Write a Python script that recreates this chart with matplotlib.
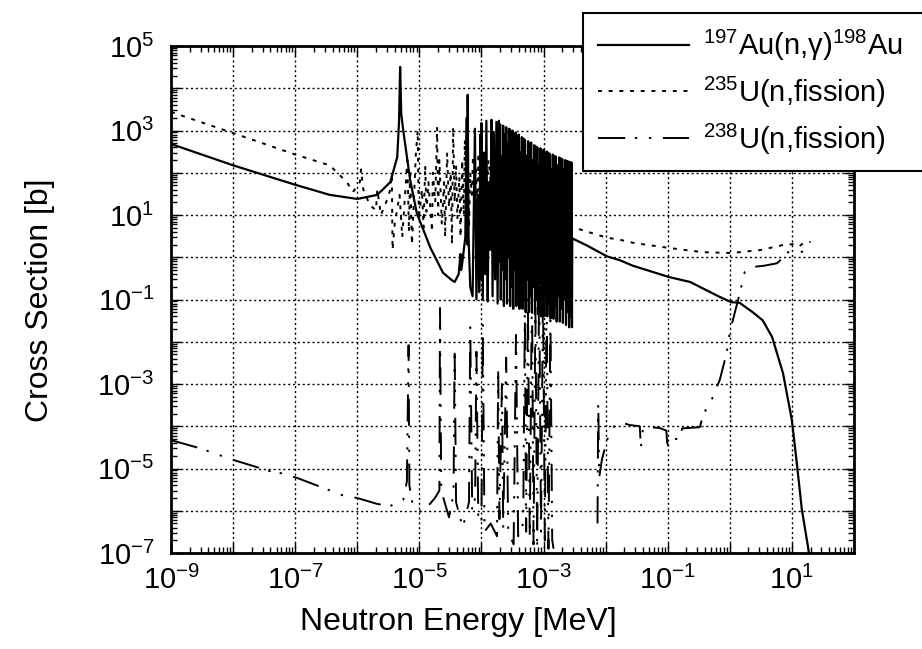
"""Neutron cross sections: Au capture, U-235 and U-238 fission."""

import numpy as np
import matplotlib
matplotlib.use("Agg")
import matplotlib.pyplot as plt
from matplotlib.ticker import LogLocator, FuncFormatter, NullFormatter

nan = float("nan")

# 197Au(n,gamma) -- energy [MeV], cross section [b]
AU_E = [
    1e-9, 1e-8, 1e-7, 3.6e-7, 1.0e-6, 2.1e-6, 3.4e-6, 4.4e-6, 4.7e-6, 4.9e-6,
    5.1e-6, 5.5e-6, 7.1e-6, 9.1e-6, 1.5e-5, 2.4e-5, 3.3e-5, 3.7e-5, 4.3e-5, 4.6e-5,
    4.7e-5, 4.9e-5, 5.5e-5, 5.8e-5, 5.95e-5, 6.0e-5, 6.2e-5, 6.6e-5, 7.2e-5, 7.85e-5,
    8.3e-5, 8.8e-5, 9.2e-5, 9.6e-5, 9.8e-5,
    # resolved resonance band
    1.00e-4, 1.05e-4, 1.10e-4, 1.15e-4, 1.20e-4, 1.26e-4, 1.32e-4, 1.38e-4, 1.45e-4, 1.51e-4,
    1.58e-4, 1.66e-4, 1.74e-4, 1.82e-4, 1.91e-4, 1.95e-4,
    2.00e-4, 2.05e-4, 2.11e-4, 2.18e-4, 2.24e-4, 2.30e-4, 2.37e-4, 2.44e-4, 2.51e-4, 2.58e-4,
    2.66e-4, 2.74e-4, 2.82e-4, 2.90e-4, 2.99e-4, 3.07e-4, 3.16e-4, 3.25e-4, 3.35e-4, 3.45e-4,
    3.55e-4, 3.65e-4, 3.76e-4, 3.87e-4, 3.98e-4, 4.10e-4, 4.22e-4, 4.34e-4, 4.47e-4, 4.60e-4,
    4.73e-4, 4.87e-4, 5.01e-4, 5.16e-4, 5.31e-4, 5.46e-4, 5.62e-4, 5.79e-4, 5.96e-4, 6.13e-4,
    6.31e-4, 6.49e-4, 6.68e-4, 6.88e-4, 7.08e-4, 7.29e-4, 7.50e-4, 7.72e-4, 7.94e-4, 8.17e-4,
    8.41e-4, 8.66e-4, 8.91e-4, 9.17e-4, 9.44e-4, 9.72e-4, 1.00e-3, 1.03e-3, 1.06e-3, 1.09e-3,
    1.12e-3, 1.15e-3, 1.19e-3, 1.22e-3, 1.26e-3, 1.29e-3, 1.33e-3, 1.37e-3, 1.41e-3, 1.45e-3,
    1.50e-3, 1.54e-3, 1.58e-3, 1.63e-3, 1.68e-3, 1.73e-3, 1.78e-3, 1.83e-3, 1.88e-3, 1.94e-3,
    2.00e-3, 2.05e-3, 2.11e-3, 2.18e-3, 2.24e-3, 2.30e-3, 2.37e-3, 2.44e-3, 2.51e-3, 2.58e-3,
    2.66e-3, 2.74e-3, 2.82e-3, 2.87e-3,
    # smooth part
    2.9e-3, 5e-3, 1.05e-2, 1.7e-2, 2.75e-2, 1.05e-1, 2.3e-1, 6.9e-1, 1.05, 1.45,
    2.34, 3.4, 4.8, 7.2, 10.0, 12.0, 14.5, 18.2, 20.0,
]
AU_XS = [
    480, 150, 52, 30, 24, 30, 60, 235, 1600, 3.2e4,
    2500, 1000, 68, 11, 1.7, 0.43, 0.29, 0.26, 0.4, 1.2,
    0.5, 0.72, 3, 2000, 2, 7000, 3, 0.2, 0.12, 1100,
    0.1, 30, 0.15, 800, 0.3,
    1500, 0.10, 300, 0.4, 1700, 0.09, 60, 1.5, 1800, 0.12,
    900, 0.3, 1600, 0.08, 1700, 0.8,
    1400, 0.1, 250, 0.5, 1300, 0.07, 800, 0.3, 1200, 0.08,
    500, 1.0, 1100, 0.07, 900, 0.2, 1000, 0.06, 400, 0.5,
    900, 0.07, 750, 0.15, 800, 0.06, 300, 0.4, 700, 0.06,
    650, 0.1, 600, 0.05, 250, 0.3, 560, 0.05, 500, 0.12,
    520, 0.05, 200, 0.2, 450, 0.045, 420, 0.1, 400, 0.045,
    150, 0.25, 380, 0.04, 330, 0.09, 350, 0.04, 200, 0.15,
    320, 0.04, 300, 0.08, 280, 0.035, 120, 0.2, 270, 0.035,
    250, 0.07, 240, 0.03, 150, 0.12, 230, 0.03, 220, 0.06,
    210, 0.028, 120, 0.1, 200, 0.025, 190, 0.05, 185, 0.022,
    180, 0.04, 175, 0.022,
    2.8, 1.9, 1.05, 0.85, 0.63, 0.34, 0.26, 0.115, 0.087, 0.083,
    0.05, 0.032, 0.013, 1.8e-3, 1.4e-4, 1.35e-5, 1.05e-6, 1.4e-7, 5e-8,
]

# 235U(n,fission)
U235_E = [
    1e-9, 1e-8, 1e-7, 3.6e-7, 6.8e-7, 8.5e-7, 1.1e-6, 1.15e-6, 1.25e-6, 1.6e-6,
    2.0e-6, 2.1e-6, 2.4e-6, 3.1e-6, 3.4e-6, 3.6e-6, 3.7e-6, 4.0e-6, 4.8e-6, 5.3e-6,
    6.4e-6, 6.8e-6, 7.1e-6, 7.6e-6, 8.8e-6, 9.4e-6, 9.8e-6, 1.1e-5, 1.17e-5, 1.24e-5,
    1.3e-5, 1.4e-5, 1.6e-5, 1.65e-5, 1.8e-5, 1.93e-5, 2.0e-5, 2.1e-5, 2.3e-5, 2.5e-5,
    2.6e-5, 2.8e-5, 3.0e-5, 3.2e-5, 3.35e-5, 3.5e-5, 3.7e-5, 3.9e-5, 4.1e-5, 4.4e-5,
    4.6e-5, 4.9e-5, 5.2e-5, 5.4e-5, 5.7e-5, 6.0e-5, 6.3e-5, 6.6e-5, 7.0e-5, 7.3e-5,
    7.7e-5, 8.0e-5, 8.5e-5, 9.0e-5, 9.5e-5, 1.0e-4, 1.1e-4, 1.3e-4, 1.6e-4, 2.0e-4,
    2.5e-4, 3.0e-4, 4.0e-4, 5.0e-4, 7.0e-4, 1.0e-3, 1.4e-3, 2.0e-3, 2.6e-3, 2.9e-3,
    1.05e-2, 1.7e-2, 2.75e-2, 1.05e-1, 3.7e-1, 1.05, 3.1, 7.2, 10.5, 13.0,
    15.5, 17.4, 20.0,
]
U235_XS = [
    2750, 870, 270, 150, 60, 35, 60, 120, 40, 17,
    13, 40, 10, 25, 40, 90, 1.5, 6, 30, 3,
    200, 4, 120, 2, 300, 1000, 8, 40, 5, 150,
    12, 60, 4, 100, 20, 1200, 10, 200, 6, 60,
    3, 300, 15, 100, 2, 1200, 20, 150, 8, 80,
    3, 200, 10, 600, 15, 250, 5, 100, 30, 250,
    8, 150, 20, 300, 10, 150, 5, 200, 8, 150,
    6, 100, 8, 80, 6, 50, 5, 30, 4, 5.2,
    2.9, 2.6, 2.2, 1.66, 1.32, 1.26, 1.48, 1.95, 2.04, 1.8,
    2.2, 2.29, 2.3,
]

# 238U(n,fission); nan separates the resonance region from the threshold part
U238_E = [
    1e-9, 2.95e-9, 1e-8, 3.9e-8, 4.5e-8, 5e-8, 1.07e-7, 5.9e-7, 1.0e-6, 2.1e-6,
    3.4e-6, 5.5e-6, 6.3e-6, 6.7e-6, 6.9e-6, 7.9e-6, 1.12e-5, 1.78e-5, 2.1e-5, 2.15e-5,
    2.25e-5, 3.0e-5, 3.55e-5, 3.7e-5, 3.9e-5, 5.0e-5, 6.3e-5, 6.6e-5, 7.1e-5, 7.9e-5,
    8.3e-5, 8.9e-5, 1.0e-4, 1.05e-4, 1.12e-4, 1.41e-4, 1.78e-4, 1.86e-4, 1.95e-4, 2.14e-4,
    2.24e-4, 2.5e-4, 2.7e-4, 3.3e-4, 3.6e-4, 3.9e-4, 4.7e-4, 5.0e-4, 5.25e-4, 5.6e-4,
    6.0e-4, 6.5e-4, 6.9e-4, 7.4e-4, 7.9e-4, 8.5e-4, 9.1e-4, 9.8e-4, 1.05e-3, 1.12e-3,
    1.2e-3, 1.29e-3, 1.38e-3, 1.45e-3, nan,
    7.4e-3, 7.6e-3, 7.9e-3, 8.7e-3, 1.05e-2, 1.38e-2, 1.7e-2, 2.45e-2, 3.55e-2, 3.7e-2,
    4.0e-2, 5.1e-2, 7.4e-2, 9.5e-2, 1.0e-1, 1.02e-1, 1.62e-1, 1.7e-1, 3.3e-1, 3.7e-1,
    5.1e-1, 6.9e-1, 8.9e-1, 1.0, 1.2, 1.45, 1.74, 2.34, 3.55, 5.75,
    6.5, 8.3, 10.5, 13.5, 19.5,
]
U238_XS = [
    4.7e-5, 3.0e-5, 1.6e-5, 8.7e-6, 1.0e-5, 8.3e-6, 6.0e-6, 2.3e-6, 2.0e-6, 1.45e-6,
    1.3e-6, 1.8e-6, 5e-6, 8.3e-3, 4e-6, 1.26e-6, 9e-7, 2e-6, 3e-6, 6.3e-2,
    3e-6, 7e-7, 2.5e-6, 7e-3, 1.6e-6, 4e-7, 1.6e-6, 2.2e-2, 1e-6, 2e-6,
    5.8e-3, 6.3e-7, 5e-7, 2.5e-2, 3.2e-7, 5e-7, 2.5e-7, 2.4e-3, 6.3e-7, 1e-3,
    4e-7, 4.2e-3, 3.2e-7, 1.6e-7, 1.45e-2, 2.5e-7, 5e-7, 4.8e-2, 3.2e-7, 0.1,
    2.5e-7, 0.25, 1.6e-7, 6.3e-2, 1.26e-7, 0.32, 3.2e-7, 0.16, 2e-7, 0.2,
    1.26e-7, 3.2e-2, 2e-7, 1.26e-7, nan,
    5e-7, 3.5e-4, 6.3e-6, 1.6e-5, 4.7e-5, 1e-4, 1.26e-4, 1.07e-4, 1e-4, 3.2e-5,
    8.9e-5, 9.5e-5, 9.1e-5, 7.9e-5, 2.75e-5, 5e-5, 5e-5, 8.9e-5, 9.5e-5, 1.86e-4,
    4.2e-4, 1.26e-3, 5.4e-3, 1.7e-2, 4.8e-2, 0.14, 0.45, 0.59, 0.63, 0.72,
    0.85, 1.32, 1.26, 1.32, 1.48,
]

LABELS = [r"$^{197}$Au(n,γ)$^{198}$Au", r"$^{235}$U(n,fission)", r"$^{238}$U(n,fission)"]

plt.rcParams["font.family"] = ["Liberation Sans", "DejaVu Sans"]
plt.rcParams["mathtext.fontset"] = "custom"
plt.rcParams["mathtext.rm"] = "Liberation Sans"
plt.rcParams["mathtext.it"] = "Liberation Sans:italic"
plt.rcParams["mathtext.bf"] = "Liberation Sans:bold"


def decade_label(v, pos):
    p = int(round(np.log10(v)))
    if p % 2 == 0:
        return ""
    return r"$\mathregular{10^{%d}}$" % p


fig = plt.figure(figsize=(9.22, 6.49), dpi=100)
ax = fig.add_axes([0.1855, 0.1479, 0.7407, 0.7812])

ax.plot(U238_E, U238_XS, color="black", lw=1.4,
        linestyle=(0, (14, 5, 1.2, 6, 1.2, 6)), label=LABELS[2])
ax.plot(U235_E, U235_XS, color="black", lw=1.4,
        linestyle=(0, (2, 3.5)), label=LABELS[1])
ax.plot(AU_E, AU_XS, color="black", lw=1.6, label=LABELS[0])

ax.set_xscale("log")
ax.set_yscale("log")
ax.set_xlim(1e-9, 1e2)
ax.set_ylim(1e-7, 1e5)

for axis in (ax.xaxis, ax.yaxis):
    axis.set_major_locator(LogLocator(base=10, numticks=40))
    axis.set_minor_locator(LogLocator(base=10, subs=range(2, 10), numticks=40))
    axis.set_major_formatter(FuncFormatter(decade_label))
    axis.set_minor_formatter(NullFormatter())

ax.tick_params(which="both", direction="in", top=True, right=True, labelsize=21)
ax.tick_params(which="major", length=7, width=1)
ax.tick_params(which="minor", length=4, width=1)
ax.tick_params(axis="x", pad=9)
ax.tick_params(axis="y", pad=12)
for s in ax.spines.values():
    s.set_linewidth(2)

ax.grid(True, which="major", color="black", linestyle=(0, (1.5, 2)), linewidth=1)
ax.set_axisbelow(True)

fig.text(0.497, 0.042, "Neutron Energy [MeV]", ha="center", va="center", fontsize=23)
fig.text(0.043, 0.538, "Cross Section [b]", ha="center", va="center",
         rotation=90, fontsize=23)

# legend frame runs past the right edge of the figure, as in the original
handles, labels = ax.get_legend_handles_labels()
leg = fig.legend(handles[::-1], labels[::-1], loc="upper left",
                 bbox_to_anchor=(583 / 922, 0.5, 0.40, 1 - 13 / 649 - 0.5),
                 mode="expand", fontsize=21,
                 handlelength=3.15, handletextpad=0.45, labelspacing=0.4,
                 borderpad=0.5, fancybox=False, framealpha=1, borderaxespad=0)
leg.get_frame().set_edgecolor("black")
leg.get_frame().set_linewidth(1.5)

fig.savefig("out.png", dpi=100)
